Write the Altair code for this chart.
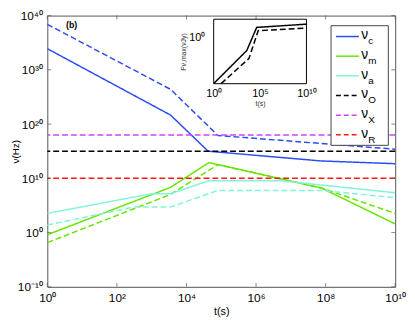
import math
import altair as alt
import pandas as pd

# ---------------- data ----------------
# nu_c
t_c = [1, 3.5e3, 4.2e4, 7.5e7, 1e10]
nu_c = [8e33, 4.5e21, 1e15, 1.6e13, 5e12]
t_c_d = [1, 3.5e3, 8e4, 1e10]
nu_c_d = [2.5e38, 2.5e26, 8e17, 2.3e15]
# nu_m
t_m = [1, 3.5e3, 4.4e4, 7.5e7, 1e10]
nu_m = [0.4, 2.2e8, 8e12, 1.7e8, 40]
t_m_d = [1, 3.5e3, 8e4, 7.5e7, 1e10]
nu_m_d = [1.4e-2, 1.1e7, 3.4e12, 1.7e8, 3.4e3]
# nu_a
t_a = [1, 1e3, 3.5e3, 4.4e4, 5e6, 1e10]
nu_a = [3.4e3, 1.5e7, 1.5e7, 3.7e9, 3.7e9, 2.2e7]
t_a_d = [1, 3e2, 3.5e3, 8e4, 7.5e7, 1e10]
nu_a_d = [25, 5e4, 5e4, 6e7, 6e7, 2.7e6]
# observing bands
band_names = ["O", "X", "R"]
band_nu = [1e15, 1e18, 1e10]

# inset: peak flux
ti_s = [1, 3.7e3, 4.3e4, 1e10]
F_s = [3.2e-3, 0.2, 3.6, 5.4]
ti_d = [6.3, 6.3e3, 6.3e4, 1e10]
F_d = [3.2e-3, 0.074, 2.4, 3.3]

series_names = ["c", "m", "a", "O", "X", "R"]
x_ticks = [1, 1e2, 1e4, 1e6, 1e8, 1e10]
y_ticks = [1e-10, 1e0, 1e10, 1e20, 1e30, 1e40]
inset_x_ticks = [1, 1e5, 1e10]
inset_y_ticks = [1]

# ---------------- styles ----------------
colors = ["#2b4cf5", "#66e600", "#80f5dc", "#000000", "#cc44ff", "#ff1a1a"]
FONT = "Liberation Sans"
AX = "#555555"
W, H = 354, 276


def pow_label(vals):
    sup = str.maketrans("0123456789-", "⁰¹²³⁴⁵⁶⁷⁸⁹⁻")
    expr = "''"
    for v in vals:
        k = round(math.log10(v))
        expr = f"round(log(datum.value)/LN10) == {k} ? '10{str(k).translate(sup)}' : " + expr
    return expr


rows = []
for name, var, ts, ns in [("c", "solid", t_c, nu_c), ("c", "dashed", t_c_d, nu_c_d),
                          ("m", "solid", t_m, nu_m), ("m", "dashed", t_m_d, nu_m_d),
                          ("a", "solid", t_a, nu_a), ("a", "dashed", t_a_d, nu_a_d)]:
    for t, n in zip(ts, ns):
        rows.append({"name": name, "variant": var, "key": name + var, "t": t, "nu": n})
df_lines = pd.DataFrame(rows)
df_bands = pd.DataFrame({"name": band_names, "nu": band_nu})
df_xt = pd.DataFrame({"t": x_ticks})
df_yt = pd.DataFrame({"nu": y_ticks})

x_enc = alt.X("t:Q", scale=alt.Scale(type="log", domain=[1, 1e10]),
              axis=alt.Axis(values=x_ticks, labelExpr=pow_label(x_ticks), title="t(s)",
                            tickSize=0, domain=False, grid=False, labelFont=FONT,
                            labelFontSize=12, labelPadding=6, titleFont=FONT,
                            titleFontSize=11, titleFontWeight="normal", titlePadding=2,
                            labelColor="black", titleColor="black", labelFlush=False))
y_enc = alt.Y("nu:Q", scale=alt.Scale(type="log", domain=[1e-10, 1e40]),
              axis=alt.Axis(values=y_ticks, labelExpr=pow_label(y_ticks), title="ν(Hz)",
                            tickSize=0, domain=False, grid=False, labelFont=FONT,
                            labelFontSize=12, labelPadding=5, titleFont=FONT,
                            titleFontSize=10, titleFontWeight="normal", titleX=-27,
                            labelColor="black", titleColor="black", labelFlush=False))
color_enc = alt.Color("name:N", scale=alt.Scale(domain=series_names, range=colors), legend=None)
dash_enc = alt.StrokeDash("variant:N", scale=alt.Scale(domain=["solid", "dashed"],
                                                       range=[[1, 0], [6, 3]]), legend=None)

lines = alt.Chart(df_lines).mark_line(strokeWidth=1.5, clip=True).encode(
    x=x_enc, y=y_enc, color=color_enc, strokeDash=dash_enc, detail="key:N")
hrules = alt.Chart(df_bands).mark_rule(strokeWidth=1.5, strokeDash=[6, 3]).encode(
    y=y_enc, color=color_enc)
yt_l = alt.Chart(df_yt).mark_tick(orient="horizontal", size=4, thickness=1, color=AX).encode(
    y=y_enc, x=alt.value(2))
yt_r = alt.Chart(df_yt).mark_tick(orient="horizontal", size=4, thickness=1, color=AX).encode(
    y=y_enc, x=alt.value(W - 2))
xt_b = alt.Chart(df_xt).mark_tick(orient="vertical", size=4, thickness=1, color=AX).encode(
    x=x_enc, y=alt.value(H - 2))
xt_t = alt.Chart(df_xt).mark_tick(orient="vertical", size=4, thickness=1, color=AX).encode(
    x=x_enc, y=alt.value(2))
one = pd.DataFrame({"a": [0]})
lab_b = alt.Chart(one).mark_text(text="(b)", font=FONT, fontSize=9, fontWeight="bold",
                                 align="left", baseline="middle").encode(
    x=alt.value(19), y=alt.value(10))
main = alt.layer(lines, hrules, yt_l, yt_r, xt_b, xt_t, lab_b)

# ---------------- inset ----------------
ix0, ix1, iy0, iy1 = 169.3, 263.7, 3.7, 69.3
rows = []
for var, ts, fs in [("solid", ti_s, F_s), ("dashed", ti_d, F_d)]:
    for t, f in zip(ts, fs):
        rows.append({"variant": var, "t": t, "F": f})
df_in = pd.DataFrame(rows)
ix_enc = alt.X("t:Q", scale=alt.Scale(type="log", domain=[1, 1e10], range=[ix0, ix1]),
               axis=alt.Axis(orient="bottom", offset=-(H - iy1), values=inset_x_ticks,
                             labelExpr=pow_label(inset_x_ticks), title="t(s)", tickSize=0,
                             domain=False, grid=False, labelFont=FONT, labelFontSize=11,
                             labelPadding=4, titleFont=FONT, titleFontSize=7,
                             titleFontWeight="normal", titlePadding=1, labelColor="black",
                             titleColor="#333", zindex=1, labelFlush=False))
iy_enc = alt.Y("F:Q", scale=alt.Scale(type="log", domain=[10 ** -2.5, 10], range=[iy1, iy0]),
               axis=alt.Axis(orient="left", offset=-ix0, values=inset_y_ticks,
                             labelExpr=pow_label(inset_y_ticks), title="Fν,max(νJy)",
                             tickSize=0, domain=False, grid=False, labelFont=FONT,
                             labelFontSize=11, labelPadding=9, titleFont=FONT,
                             titleFontSize=7, titleFontWeight="normal", titlePadding=2,
                             labelColor="black", titleColor="#333", zindex=1, labelFlush=False))
frame = alt.Chart(one).mark_rect(fill="white", stroke="black", strokeWidth=1).encode(
    x=alt.value(ix0), x2=alt.value(ix1), y=alt.value(iy0), y2=alt.value(iy1))
in_lines = alt.Chart(df_in).mark_line(color="black", strokeWidth=1.5).encode(
    x=ix_enc, y=iy_enc, strokeDash=dash_enc, detail="variant:N")
inset = alt.layer(frame, in_lines)

# ---------------- legend ----------------
df_leg = pd.DataFrame({"name": series_names})
ly_enc = alt.Y("name:N", scale=alt.Scale(type="point", domain=series_names,
                                         range=[21.3, 121.3], padding=0), axis=None)
lframe = alt.Chart(one).mark_rect(fill="white", stroke="#444", strokeWidth=1).encode(
    x=alt.value(288.7), x2=alt.value(347), y=alt.value(10.3), y2=alt.value(132))
l_solid = alt.Chart(df_leg).mark_rule(strokeWidth=1.5).encode(
    y=ly_enc, x=alt.value(293.7), x2=alt.value(317), color=color_enc
).transform_filter(alt.FieldOneOfPredicate(field="name", oneOf=["c", "m", "a"]))
l_dash = alt.Chart(df_leg).mark_rule(strokeWidth=1.5, strokeDash=[5, 3]).encode(
    y=ly_enc, x=alt.value(293.7), x2=alt.value(317), color=color_enc
).transform_filter(alt.FieldOneOfPredicate(field="name", oneOf=band_names))
l_nu = alt.Chart(df_leg).mark_text(text="ν", font=FONT, fontSize=14, align="left",
                                   baseline="middle", dy=-1).encode(
    y=ly_enc, x=alt.value(319.5))
l_sub = alt.Chart(df_leg).mark_text(font=FONT, fontSize=10, align="left",
                                    baseline="middle", dy=5).encode(
    y=ly_enc, x=alt.value(326.5), text="name:N")
legend = alt.layer(lframe, l_solid, l_dash, l_nu, l_sub)

chart = alt.layer(main, inset, legend).resolve_scale(
    x="independent", y="independent"
).properties(
    width=W, height=H, autosize="none",
    padding={"left": 40, "top": 5, "right": 12, "bottom": 30},
).configure_view(stroke=AX, strokeWidth=1)

chart.save("out.html", embed_options={"renderer": "svg", "actions": False})
